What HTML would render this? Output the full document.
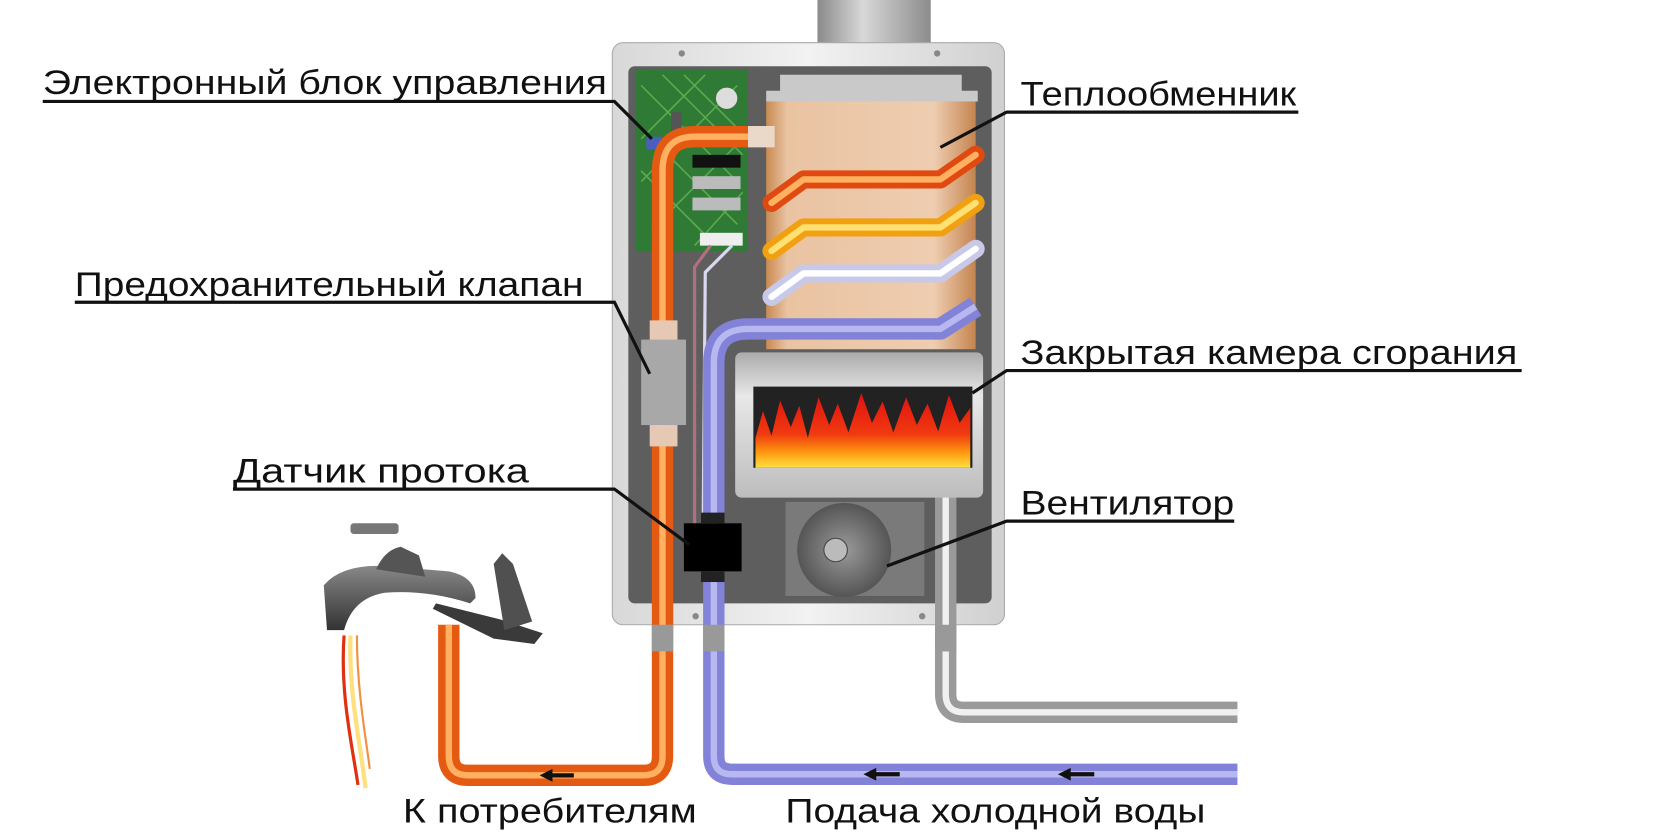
<!DOCTYPE html>
<html><head><meta charset="utf-8"><style>
html,body{margin:0;padding:0;background:#fff;width:1667px;height:833px;overflow:hidden}
svg{display:block}
text{font-family:"Liberation Sans","DejaVu Sans",sans-serif;fill:#111}
</style></head><body>
<svg width="1667" height="833" viewBox="0 0 1560 780" preserveAspectRatio="none" xmlns="http://www.w3.org/2000/svg">
<defs>
<linearGradient id="flue" x1="0" x2="1"><stop offset="0" stop-color="#8a8a8a"/><stop offset=".4" stop-color="#d8d8d8"/><stop offset="1" stop-color="#8c8c8c"/></linearGradient>
<linearGradient id="case" x1="0" x2="1"><stop offset="0" stop-color="#d8d8d8"/><stop offset=".5" stop-color="#f2f2f2"/><stop offset="1" stop-color="#d0d0d0"/></linearGradient>
<linearGradient id="hx" x1="0" x2="1"><stop offset="0" stop-color="#c98a52"/><stop offset=".1" stop-color="#e9c3a2"/><stop offset=".8" stop-color="#efcdb0"/><stop offset="1" stop-color="#c48550"/></linearGradient>
<linearGradient id="cham" x1="0" y1="0" x2="0" y2="1"><stop offset="0" stop-color="#ababab"/><stop offset=".3" stop-color="#e8e8e8"/><stop offset="1" stop-color="#bdbdbd"/></linearGradient>
<linearGradient id="fire" x1="0" y1="0" x2="0" y2="1"><stop offset="0" stop-color="#e01010"/><stop offset=".55" stop-color="#f03a10"/><stop offset=".8" stop-color="#ff9a10"/><stop offset="1" stop-color="#ffe040"/></linearGradient>
<radialGradient id="fan"><stop offset="0" stop-color="#9a9a9a"/><stop offset="1" stop-color="#555"/></radialGradient>
<linearGradient id="fauc" x1="0" y1="0" x2="0" y2="1"><stop offset="0" stop-color="#888"/><stop offset="1" stop-color="#333"/></linearGradient>
</defs>
<rect x="765" y="0" width="106" height="44" fill="url(#flue)"/>
<rect x="573" y="40" width="367" height="545" rx="10" fill="url(#case)" stroke="#aaa"/>
<circle cx="638" cy="50" r="3" fill="#888"/><circle cx="877" cy="50" r="3" fill="#888"/>
<circle cx="651" cy="577" r="3" fill="#888"/><circle cx="863" cy="577" r="3" fill="#888"/>
<rect x="588" y="62" width="340" height="503" rx="6" fill="#5e5e5e"/>
<rect x="595" y="65" width="105" height="170" fill="#2f7a35"/>
<g stroke="#6fbf5a" stroke-width="1.5" opacity=".7">
<path d="M600 80 L690 170 M600 120 L690 210 M620 70 L695 145 M600 160 L670 230 M640 70 L695 125"/>
<path d="M690 80 L600 170 M695 130 L610 215 M660 70 L600 130 M695 180 L650 230"/>
</g>
<circle cx="680" cy="92" r="10" fill="#ddd"/>
<rect x="648" y="145" width="45" height="12" fill="#111"/><rect x="648" y="165" width="45" height="12" fill="#bbb"/><rect x="648" y="185" width="45" height="12" fill="#bbb"/>
<rect x="655" y="218" width="40" height="12" fill="#eee"/>
<rect x="605" y="128" width="14" height="12" fill="#4a5fc0"/>
<rect x="628" y="105" width="10" height="18" fill="#555"/>
<path d="M665 230 L650 250 L650 495" stroke="#b07080" stroke-width="3" fill="none"/>
<path d="M685 230 L660 255 L658 495" stroke="#d8d8f0" stroke-width="3" fill="none"/>
<path d="M730 70 h170 v15 h15 v10 H717 v-10 h13z" fill="#c9c9c9"/>
<rect x="717" y="95" width="196" height="232" fill="url(#hx)"/>
<rect x="700" y="118" width="25" height="20" fill="#ead8c8"/>
<g fill="none" stroke-linejoin="round">
<g stroke-linecap="round">
<path d="M722 190 L752 168 L880 168 L913 145" stroke="#e04a10" stroke-width="17"/>
<path d="M722 190 L752 168 L880 168 L913 145" stroke="#ffb060" stroke-width="6"/>
<path d="M722 235 L752 213 L880 213 L913 190" stroke="#f0a010" stroke-width="17"/>
<path d="M722 235 L752 213 L880 213 L913 190" stroke="#ffe070" stroke-width="6"/>
<path d="M722 278 L752 256 L880 256 L913 233" stroke="#c8c8e8" stroke-width="17"/>
<path d="M722 278 L752 256 L880 256 L913 233" stroke="#fff" stroke-width="6"/>
</g>
<path d="M913 287 L880 308 L700 308 Q668 308 668 340 L668 708 Q668 725 685 725 L1158 725" stroke="#8282d8" stroke-width="20"/>
<path d="M913 287 L880 308 L700 308 Q668 308 668 340 L668 708 Q668 725 685 725 L1158 725" stroke="#b8b8f0" stroke-width="6"/>
<path d="M885 450 L885 650 Q885 667 902 667 L1158 667" stroke="#9a9a9a" stroke-width="20"/>
<path d="M885 450 L885 650 Q885 667 902 667 L1158 667" stroke="#f0f0f0" stroke-width="6"/>
<path d="M700 128 L650 128 Q620 128 620 160 L620 708 Q620 726 602 726 L438 726 Q420 726 420 708 L420 585" stroke="#e45a12" stroke-width="20"/>
<path d="M700 128 L650 128 Q620 128 620 160 L620 708 Q620 726 602 726 L438 726 Q420 726 420 708 L420 585" stroke="#ffb060" stroke-width="6"/>
</g>
<rect x="608" y="300" width="26" height="20" fill="#e6c9b4"/>
<rect x="600" y="318" width="42" height="80" fill="#a8a8a8"/>
<rect x="608" y="398" width="26" height="20" fill="#e6c9b4"/>
<rect x="688" y="330" width="232" height="136" rx="6" fill="url(#cham)"/>
<rect x="705" y="362" width="205" height="76" fill="#222"/>
<path d="M707 438 L707 410 L714 385 L722 408 L730 375 L740 400 L748 380 L756 410 L766 372 L776 398 L784 378 L794 405 L806 368 L816 396 L826 376 L836 405 L848 372 L858 398 L868 378 L878 404 L888 370 L898 396 L908 382 L908 438Z" fill="url(#fire)"/>
<rect x="735" y="470" width="130" height="88" fill="#7a7a7a"/>
<circle cx="790" cy="515" r="44" fill="url(#fan)"/>
<circle cx="782" cy="515" r="11" fill="#bbb" stroke="#444"/>
<rect x="656" y="480" width="22" height="10" fill="#222"/>
<rect x="640" y="490" width="54" height="45" fill="#000"/>
<rect x="656" y="535" width="22" height="10" fill="#222"/>
<rect x="610" y="585" width="20" height="25" fill="#999"/><rect x="658" y="585" width="20" height="25" fill="#999"/><rect x="875" y="585" width="20" height="25" fill="#999"/>
<g fill="#111"><path d="M505 726 l12 -6 v4 h20 v4 h-20 v4z"/><path d="M808 725 l12 -6 v4 h22 v4 h-22 v4z"/><path d="M990 725 l12 -6 v4 h22 v4 h-22 v4z"/></g>
<!-- faucet -->
<path d="M322 595 C318 650 330 700 335 735" stroke="#e03010" stroke-width="3" fill="none"/>
<path d="M328 595 C326 650 338 700 342 738" stroke="#ffe080" stroke-width="4" fill="none"/>
<path d="M334 595 C334 650 344 700 346 720" stroke="#f09040" stroke-width="2" fill="none"/>
<path d="M303 548 Q320 528 360 530 L420 535 Q445 540 445 560 L440 565 Q400 552 360 555 Q330 560 322 590 L306 590Z" fill="url(#fauc)"/>
<path d="M352 533 Q360 515 375 512 L392 520 L398 540Z" fill="#555"/>
<rect x="328" y="490" width="45" height="10" rx="3" fill="#777"/>
<path d="M408 565 L468 580 L508 593 L500 603 L462 598 L405 570Z" fill="#3a3a3a"/>
<path d="M462 528 L470 518 L480 528 L498 582 L472 590Z" fill="#505050"/>
<g stroke="#111" stroke-width="3" fill="none">
<path d="M40 95 L575 95 L610 130"/>
<path d="M1215 105 L942 105 L880 138"/>
<path d="M70 283 L575 283 L608 350"/>
<path d="M1424 347 L942 347 L910 368"/>
<path d="M218 458 L575 458 L645 510"/>
<path d="M1155 488 L942 488 L830 530"/>
</g>
<g font-size="32">
<text x="40" y="88" textLength="528" lengthAdjust="spacingAndGlyphs">Электронный блок управления</text>
<text x="955" y="99" textLength="258" lengthAdjust="spacingAndGlyphs">Теплообменник</text>
<text x="70" y="277" textLength="476" lengthAdjust="spacingAndGlyphs">Предохранительный клапан</text>
<text x="955" y="341" textLength="465" lengthAdjust="spacingAndGlyphs">Закрытая камера сгорания</text>
<text x="218" y="452" textLength="277" lengthAdjust="spacingAndGlyphs">Датчик протока</text>
<text x="955" y="482" textLength="200" lengthAdjust="spacingAndGlyphs">Вентилятор</text>
<text x="377" y="770" textLength="275" lengthAdjust="spacingAndGlyphs">К потребителям</text>
<text x="735" y="770" textLength="393" lengthAdjust="spacingAndGlyphs">Подача холодной воды</text>
</g>
</svg>
</body></html>
